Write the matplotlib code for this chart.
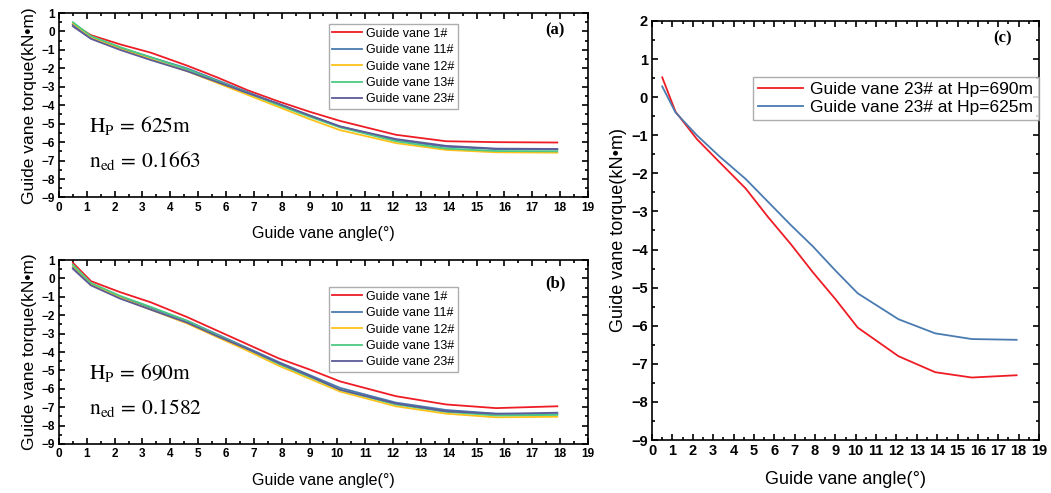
import numpy as np
import matplotlib
matplotlib.use('Agg')
import matplotlib.pyplot as plt
from matplotlib.ticker import MultipleLocator

plt.rcParams['font.family'] = ['Liberation Sans', 'DejaVu Sans']
plt.rcParams['mathtext.fontset'] = 'stix'

# guide vane angle (deg)
angle = [0.5, 1.15, 2.2, 3.3, 4.6, 5.7, 6.8, 7.9, 9.0, 10.1, 12.1, 13.9, 15.7, 17.9]

# (a) Hp = 625 m
a_1 = [0.40, -0.20, -0.70, -1.15, -1.85, -2.50, -3.20, -3.80, -4.35, -4.85, -5.60, -5.95, -6.00, -6.02]
a_11 = [0.35, -0.35, -0.90, -1.40, -2.00, -2.65, -3.30, -3.95, -4.55, -5.15, -5.90, -6.25, -6.38, -6.40]
a_12 = [0.45, -0.30, -0.95, -1.50, -2.15, -2.80, -3.45, -4.10, -4.75, -5.35, -6.05, -6.42, -6.55, -6.57]
a_13 = [0.50, -0.25, -0.85, -1.40, -2.05, -2.70, -3.35, -4.00, -4.62, -5.20, -5.95, -6.35, -6.48, -6.50]
a_23 = [0.28, -0.40, -1.00, -1.55, -2.15, -2.75, -3.35, -3.92, -4.55, -5.15, -5.83, -6.20, -6.35, -6.37]

# (b) Hp = 690 m
b_1 = [0.85, -0.15, -0.75, -1.30, -2.10, -2.85, -3.60, -4.35, -4.95, -5.60, -6.40, -6.85, -7.05, -6.95]
b_11 = [0.60, -0.35, -1.00, -1.60, -2.30, -3.05, -3.80, -4.55, -5.25, -5.95, -6.75, -7.15, -7.35, -7.38]
b_12 = [0.70, -0.30, -1.05, -1.70, -2.45, -3.20, -3.95, -4.75, -5.45, -6.15, -6.95, -7.35, -7.55, -7.52]
b_13 = [0.75, -0.25, -0.95, -1.55, -2.30, -3.10, -3.85, -4.65, -5.35, -6.05, -6.85, -7.25, -7.45, -7.42]
b_23 = [0.52, -0.38, -1.10, -1.70, -2.40, -3.15, -3.85, -4.60, -5.30, -6.05, -6.80, -7.22, -7.36, -7.30]

vane_names = ['Guide vane 1#', 'Guide vane 11#', 'Guide vane 12#', 'Guide vane 13#', 'Guide vane 23#']
vane_colors = ['#ee1c25', '#4a7bb0', '#ffc21a', '#4cc982', '#5c5c98']

fig = plt.figure(figsize=(10.51, 4.93), dpi=100)
ax_a = fig.add_axes([0.0561, 0.5994, 0.5033, 0.3742])
ax_b = fig.add_axes([0.0561, 0.0994, 0.5033, 0.3732])
ax_c = fig.add_axes([0.6204, 0.1075, 0.3682, 0.8500])


def style_axis(ax, ymin, ymax, tick_size, xlabel_size, ylabel_size):
    ax.set_xlim(0, 19)
    ax.set_ylim(ymin, ymax)
    ax.xaxis.set_major_locator(MultipleLocator(1))
    ax.xaxis.set_minor_locator(MultipleLocator(0.5))
    ax.yaxis.set_major_locator(MultipleLocator(1))
    ax.yaxis.set_minor_locator(MultipleLocator(0.5))
    ax.tick_params(which='both', direction='in', top=True, right=True, width=1.2)
    ax.tick_params(which='major', length=4, labelsize=tick_size, pad=3)
    ax.tick_params(which='minor', length=2.5)
    for lab in ax.get_xticklabels() + ax.get_yticklabels():
        lab.set_fontweight('bold')
    for sp in ax.spines.values():
        sp.set_linewidth(1.2)
    ax.set_xlabel('Guide vane angle(°)', fontsize=xlabel_size, labelpad=9)
    ax.set_ylabel('Guide vane torque(kN•m)', fontsize=ylabel_size, labelpad=3)


panels = [(ax_a, [a_1, a_11, a_12, a_13, a_23], '625', '0.1663', '(a)', 0.94, 0.908),
          (ax_b, [b_1, b_11, b_12, b_13, b_23], '690', '0.1582', '(b)', 0.853, 0.875)]
for ax, series, hp, ned, tag, leg_top, tag_y in panels:
    for y, name, col in zip(series, vane_names, vane_colors):
        ax.plot(angle, y, color=col, lw=1.3, label=name)
    style_axis(ax, -9, 1, 8.5, 11.5, 12.5)
    leg = ax.legend(loc='upper left', bbox_to_anchor=(0.51, leg_top), fontsize=9,
                    frameon=True, fancybox=False, edgecolor='#999999',
                    handlelength=2.4, handletextpad=0.3, borderpad=0.3,
                    labelspacing=0.35, borderaxespad=0)
    leg.get_frame().set_linewidth(1.0)
    ax.text(0.057, 0.355, r'$\mathrm{H_P}\,=\,' + hp + r'\mathrm{m}$', transform=ax.transAxes,
            fontsize=15.5)
    ax.text(0.057, 0.165, r'$\mathrm{n_{ed}}\,=\,' + ned + r'$', transform=ax.transAxes,
            fontsize=15.5)
    ax.text(0.938, tag_y, tag, transform=ax.transAxes, fontsize=12, fontweight='bold',
            family='Liberation Serif', ha='center', va='center')

# (c)
ax_c.plot(angle, b_23, color='#ee1c25', lw=1.3, label='Guide vane 23# at Hp=690m')
ax_c.plot(angle, a_23, color='#4a7bb0', lw=1.3, label='Guide vane 23# at Hp=625m')
style_axis(ax_c, -9, 2, 10.5, 13, 13)
leg = ax_c.legend(loc='upper left', bbox_to_anchor=(0.261, 0.866), fontsize=12.5,
                  frameon=True, fancybox=False, edgecolor='#999999',
                  handlelength=2.6, handletextpad=0.4, borderpad=0.3,
                  labelspacing=0.15, borderaxespad=0)
leg.get_frame().set_linewidth(1.0)
ax_c.text(0.907, 0.959, '(c)', transform=ax_c.transAxes, fontsize=12, fontweight='bold',
          family='Liberation Serif', ha='center', va='center')

fig.savefig('out.png', dpi=100)
